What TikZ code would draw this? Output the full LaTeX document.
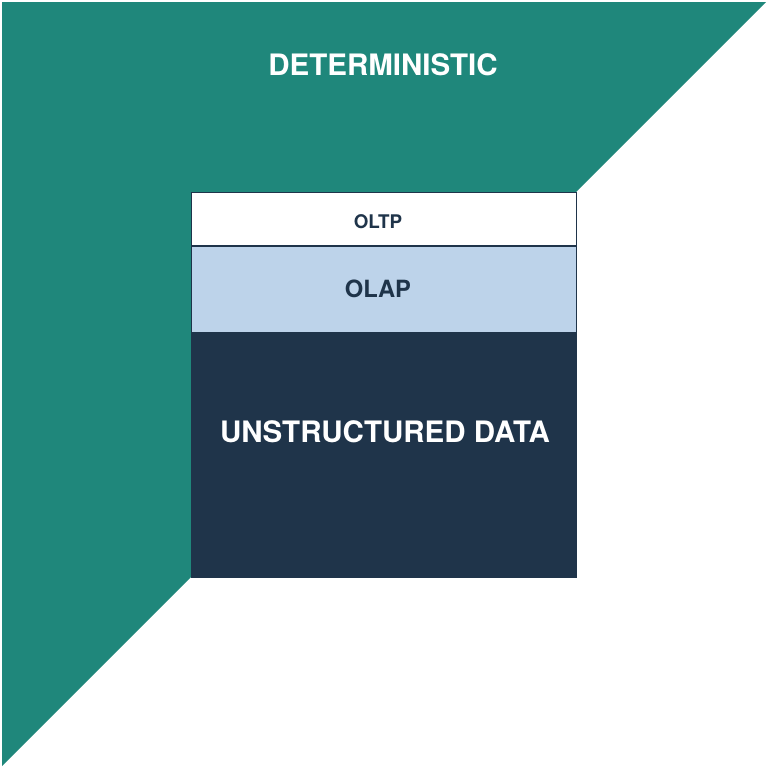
\documentclass[tikz,border=0pt]{standalone}
\usepackage{fontspec}
\setmainfont{TeX Gyre Heros}
\definecolor{tealgreen}{RGB}{31,135,123}
\definecolor{lightblue}{RGB}{189,211,234}
\definecolor{navy}{RGB}{31,52,74}
\tikzset{
  band/.style={draw=navy,line width=0.6pt},
  label/.style={font=\bfseries,inner sep=0pt}
}
\begin{document}
\begin{tikzpicture}[x=0.02cm,y=-0.02cm]
\useasboundingbox (0,0) rectangle (767,768);
\fill [color=tealgreen](2,2) -- (766,2) -- (2,766) -- cycle;
\draw [band,fill=white](191.5,192.5) rectangle (576.5,246);
\draw [band,fill=lightblue](191.5,246) rectangle (576.5,332.5);
\draw [band,fill=navy](191.5,332.5) rectangle (576.5,577);
\node [label,color=white,font=\bfseries\fontsize{16.8}{20}\selectfont] (det) at (383,65) {DETERMINISTIC};
\node [label,color=navy,font=\bfseries\fontsize{10.7}{13}\selectfont] (oltp) at (378,222) {OLTP};
\node [label,color=navy,font=\bfseries\fontsize{13.5}{16}\selectfont] (olap) at (378,289) {OLAP};
\node [label,color=white,font=\bfseries\fontsize{16.8}{20}\selectfont] (unstr) at (385,432) {UNSTRUCTURED DATA};
\end{tikzpicture}
\end{document}
